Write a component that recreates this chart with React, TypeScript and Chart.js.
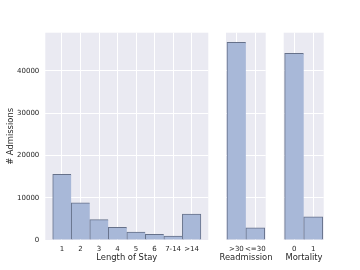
import React, { useEffect, useRef } from "react";
import { Chart, registerables } from "chart.js";

Chart.register(...registerables);

// ---- data ----
const LOS_LABELS = ["1", "2", "3", "4", "5", "6", "7-14", ">14"];
const LOS_VALUES = [15500, 8800, 4800, 3000, 1900, 1350, 950, 6100];
const READM_LABELS = [">30", "<=30"];
const READM_VALUES = [46700, 2900];
const MORT_LABELS = ["0", "1"];
const MORT_VALUES = [44100, 5500];
const Y_TICKS = [0, 10000, 20000, 30000, 40000];
const Y_MAX = 49000;

const FONT = "'DejaVu Sans', sans-serif";
const TEXT = "#262626";
const BG = "#EAEAF2";
const BAR = "#A8B8D8";
const EDGE = "#66718A";
const TICK_SIZE = 7;
const TITLE_SIZE = 8.4;

const bgPlugin = {
  id: "panelBg",
  beforeDraw(chart: any) {
    const a = chart.chartArea;
    const ctx = chart.ctx;
    ctx.save();
    ctx.fillStyle = BG;
    ctx.fillRect(a.left, a.top, a.right - a.left, a.bottom - a.top);
    ctx.restore();
  },
};

type PanelProps = {
  labels: string[];
  values: number[];
  left: number;
  width: number;
  title: string;
  first: boolean;
  margin: number;
  yAxisWidth: number;
  rightWidth: number;
};

function Panel(p: PanelProps) {
  const ref = useRef<HTMLCanvasElement | null>(null);
  useEffect(() => {
    if (!ref.current) return;
    const n = p.values.length;
    const idx = p.values.map((_, i) => i);
    const titleBox = TITLE_SIZE * 1.2 + 7;
    const scales: any = {
      x: {
        type: "linear",
        offset: false,
        min: -0.5 - p.margin,
        max: n - 0.5 + p.margin,
        afterBuildTicks: (s: any) => {
          s.ticks = idx.map((v) => ({ value: v }));
        },
        afterFit: (s: any) => {
          s.height = p.first ? 30 : 30 - titleBox;
        },
        grid: { color: "#FFFFFF", lineWidth: 1, drawTicks: false, offset: false },
        border: { display: false },
        ticks: {
          autoSkip: false,
          maxRotation: 0,
          padding: 5,
          color: TEXT,
          font: { family: FONT, size: TICK_SIZE },
          callback: (v: any) => p.labels[v],
        },
        title: {
          display: p.first,
          text: p.title,
          color: TEXT,
          font: { family: FONT, size: TITLE_SIZE },
          padding: { top: 0, bottom: 7 },
        },
      },
      y: {
        type: "linear",
        position: "left",
        min: 0,
        max: Y_MAX,
        afterBuildTicks: (s: any) => {
          s.ticks = Y_TICKS.map((v) => ({ value: v }));
        },
        afterFit: (s: any) => {
          s.width = p.yAxisWidth;
        },
        grid: { color: "#FFFFFF", lineWidth: 1, drawTicks: false },
        border: { display: false },
        ticks: {
          display: p.first,
          padding: 6,
          color: TEXT,
          font: { family: FONT, size: TICK_SIZE },
          callback: (v: any) => String(v),
        },
        title: {
          display: p.first,
          text: "# Admissions",
          color: TEXT,
          font: { family: FONT, size: TITLE_SIZE },
          padding: { top: 5.5, bottom: 0 },
        },
      },
    };
    if (p.rightWidth > 0) {
      scales.y2 = {
        type: "linear",
        position: "right",
        display: true,
        afterFit: (s: any) => {
          s.width = p.rightWidth;
        },
        grid: { display: false, drawTicks: false },
        border: { display: false },
        ticks: { display: false },
      };
    }
    const chart = new Chart(ref.current, {
      type: "bar",
      data: {
        datasets: [
          {
            data: p.values.map((v, i) => ({ x: i, y: v })),
            backgroundColor: BAR,
            borderColor: EDGE,
            borderWidth: (c: any) => ({
              top: 1,
              left: 1,
              right: c.dataIndex === n - 1 ? 1 : 0,
              bottom: 0,
            }),
            borderSkipped: false,
            barPercentage: 1,
            categoryPercentage: 1,
          } as any,
        ],
      },
      options: {
        responsive: false,
        animation: false,
        devicePixelRatio: 1,
        layout: {
          padding: p.first
            ? { top: 32.7, right: 3.7, left: 0, bottom: 0 }
            : { top: 32.7, right: 0, left: 0, bottom: 0 },
        },
        plugins: {
          legend: { display: false },
          tooltip: { enabled: false },
          title: {
            display: !p.first,
            text: p.title,
            position: "bottom",
            color: TEXT,
            font: { family: FONT, size: TITLE_SIZE, weight: "normal" },
            padding: { top: 0, bottom: 7 },
          },
        },
        scales,
      } as any,
      plugins: [bgPlugin],
    });
    return () => chart.destroy();
  }, []);
  return (
    <canvas
      ref={ref}
      width={p.width}
      height={270}
      style={{ position: "absolute", left: p.left, top: 0, width: p.width, height: 270 }}
    />
  );
}

export default function App() {
  return (
    <div
      style={{
        position: "absolute",
        left: 0,
        top: 0,
        width: 360,
        height: 270,
        background: "#FFFFFF",
        overflow: "hidden",
      }}
    >
      <Panel
        labels={LOS_LABELS}
        values={LOS_VALUES}
        left={0}
        width={212}
        title="Length of Stay"
        first={true}
        margin={0.4}
        yAxisWidth={45.3}
        rightWidth={0}
      />
      <Panel
        labels={READM_LABELS}
        values={READM_VALUES}
        left={216}
        width={60}
        title="Readmission"
        first={false}
        margin={0.05}
        yAxisWidth={10}
        rightWidth={10.3}
      />
      <Panel
        labels={MORT_LABELS}
        values={MORT_VALUES}
        left={274}
        width={60}
        title="Mortality"
        first={false}
        margin={0.05}
        yAxisWidth={9.7}
        rightWidth={10.3}
      />
    </div>
  );
}
